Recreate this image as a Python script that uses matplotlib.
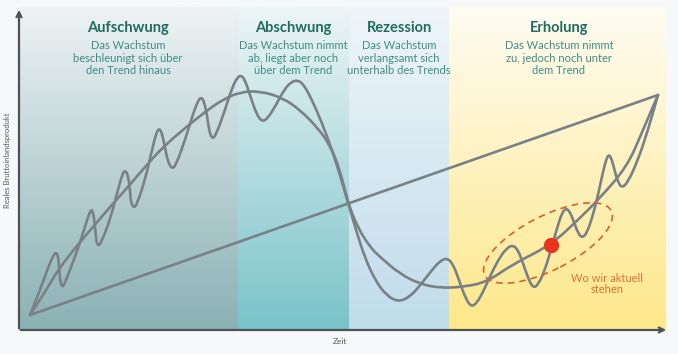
import numpy as np
import matplotlib.pyplot as plt
from matplotlib.colors import LinearSegmentedColormap
from matplotlib.patches import Ellipse, PathPatch
from matplotlib.path import Path

# phases: name, subtitle, start, end (time units)
phase_names = ["Aufschwung", "Abschwung", "Rezession", "Erholung"]
phase_texts = ["Das Wachstum\nbeschleunigt sich über\nden Trend hinaus",
               "Das Wachstum nimmt\nab, liegt aber noch\nüber dem Trend",
               "Das Wachstum\nverlangsamt sich\nunterhalb des Trends",
               "Das Wachstum nimmt\nzu, jedoch noch unter\ndem Trend"]
phase_start = [0, 219, 330, 430]
phase_end = [219, 330, 430, 647]
phase_label_x = [109, 274, 380, 540]
phase_top = ["#eef3f4", "#edf5f6", "#eef5fa", "#fffcf3"]
phase_bottom = ["#8ab1b5", "#79c3c9", "#c0dcea", "#fde88a"]

# long-term trend
trend_t = [11, 639]
trend_y = [15, 235]

# smooth business cycle
cycle_t = [11, 26, 39, 56, 74, 91, 108, 126, 143, 166, 186, 203, 221, 241, 264,
           281, 298, 311, 321, 329, 339, 351, 361, 381, 401, 421, 444, 468, 494,
           532, 561, 579, 608, 624, 639]
cycle_y = [15, 38, 60, 82, 103, 123, 142, 163, 182, 202, 218, 230, 238, 239, 232,
           220, 203, 185, 160, 127, 102, 83, 73, 56, 46, 42, 43, 48, 66,
           85, 112, 130, 163, 200, 235]

# actual GDP with short-term swings
gdp_t = [11, 21, 29, 34, 37, 39, 40, 41, 43, 45, 51, 61, 68, 72, 74, 76, 77, 79,
         82, 91, 99, 103, 106, 109, 111, 112, 115, 118, 126, 133, 137, 140, 143,
         146, 149, 153, 157, 166, 174, 179, 182, 185, 188, 190, 193, 197, 206,
         213, 218, 222, 226, 231, 237, 243, 249, 257, 265, 272, 279, 285, 293,
         303, 313, 321, 329, 337, 346, 356, 367, 379, 391, 403, 413, 421, 428,
         434, 440, 446, 452, 458, 465, 473, 481, 488, 494, 499, 504, 509, 514,
         519, 526, 533, 539, 543, 547, 551, 555, 559, 563, 568, 574, 579, 584,
         587, 590, 593, 596, 599, 603, 609, 619, 629, 639]
gdp_y = [15, 40, 62, 74, 78, 74, 64, 50, 43, 45, 60, 87, 110, 121, 118, 105, 90, 84,
         87, 110, 140, 155, 160, 155, 140, 127, 122, 126, 150, 180, 196, 202, 197,
         182, 168, 161, 165, 190, 216, 229, 233, 229, 215, 200, 191, 195, 220,
         242, 252, 255, 250, 235, 217, 208, 212, 225, 240, 248, 250, 245, 230,
         207, 180, 155, 127, 100, 72, 50, 35, 28, 33, 47, 60, 69, 72,
         66, 50, 33, 23, 27, 40, 58, 73, 82, 85, 80, 67, 52, 42,
         45, 60, 84, 105, 117, 122, 118, 108, 97, 92, 97, 115, 135, 158,
         170, 176, 170, 158, 148, 142, 148, 170, 200, 235]

now_t, now_y = 532, 85


def curve(xs, ys):
    # quadratic bezier path through the read points (used as control points)
    p = np.column_stack([xs, ys]).astype(float)
    verts = [p[0], (p[0] + p[1]) / 2]
    codes = [Path.MOVETO, Path.LINETO]
    for i in range(1, len(p) - 1):
        verts += [p[i], (p[i] + p[i + 1]) / 2]
        codes += [Path.CURVE3, Path.CURVE3]
    verts.append(p[-1])
    codes.append(Path.LINETO)
    return Path(verts, codes)


fig = plt.figure(figsize=(6.78, 3.54), dpi=100)
fig.patch.set_facecolor("#f6f8f9")
ax = fig.add_axes([19 / 678, 24 / 354, 649 / 678, 325 / 354])

grad = np.linspace(0, 1, 256).reshape(-1, 1)
for i in range(4):
    cmap = LinearSegmentedColormap.from_list("p%d" % i, [phase_top[i], phase_bottom[i]])
    ax.imshow(grad, cmap=cmap, aspect="auto", interpolation="bilinear",
              extent=[phase_start[i], phase_end[i], 0, 323], zorder=0)
    ax.text(phase_label_x[i], 302, phase_names[i], ha="center", va="center",
            fontsize=10.5, fontweight="bold", color="#1f6b62", family="Lato")
    ax.text(phase_label_x[i], 272, phase_texts[i], ha="center", va="center",
            fontsize=8, color="#3f8c84", family="Lato", linespacing=1.12)
ax.set_xlim(0, 649)
ax.set_ylim(0, 325)
ax.axis("off")

line_col = "#7a8186"
ax.plot(trend_t, trend_y, color=line_col, lw=1.9, solid_capstyle="round", zorder=2)
for xs, ys in [(cycle_t, cycle_y), (gdp_t, gdp_y)]:
    ax.add_patch(PathPatch(curve(xs, ys), fill=False, ec=line_col, lw=1.9,
                           joinstyle="round", capstyle="round", zorder=2))

ax.add_patch(Ellipse((529, 87), 142, 54, angle=27, fill=False, ec="#d4622a",
                     lw=1.2, ls=(0, (4, 3)), zorder=3))
ax.plot(now_t, now_y, "o", ms=10, color="#e8341c", zorder=4)
ax.text(588, 46, "Wo wir aktuell\nstehen", ha="center", va="center", fontsize=8,
        color="#e0703a", family="Lato", linespacing=1.1, zorder=4)

# axes with open arrow heads
axis_col = "#4b5357"
ax.annotate("", xy=(0, 323), xytext=(0, -1), annotation_clip=False,
            arrowprops=dict(arrowstyle="->", lw=1.6, color=axis_col, mutation_scale=9))
ax.annotate("", xy=(650, 0), xytext=(-1, 0), annotation_clip=False,
            arrowprops=dict(arrowstyle="->", lw=1.6, color=axis_col, mutation_scale=9))

fig.text(8 / 678, 1 - 160 / 354, "Reales Bruttoinlandsprodukt", rotation=90,
         ha="center", va="center", fontsize=5.5, color="#555b5e", family="Lato")
fig.text(340 / 678, 1 - 341 / 354, "Zeit", ha="center", va="center",
         fontsize=6, color="#555b5e", family="Lato")

fig.savefig("out.png", dpi=100, facecolor=fig.get_facecolor())
